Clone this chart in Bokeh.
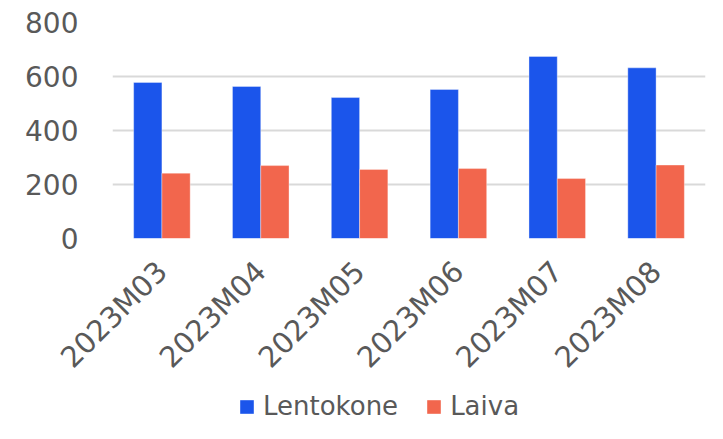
from bokeh.plotting import figure
from bokeh.models import FactorRange, Range1d, Legend, LegendItem, ColumnDataSource
from bokeh.layouts import column
from bokeh.transform import dodge
from bokeh.embed import file_html
from bokeh.resources import INLINE
import math

months = ["2023M03", "2023M04", "2023M05", "2023M06", "2023M07", "2023M08"]
lentokone = [578, 563, 522, 552, 674, 632]
laiva = [242, 270, 256, 259, 222, 272]
y_ticks = [0, 200, 400, 600, 800]
series_names = ["Lentokone", "Laiva"]

BLUE = "#1b55eb"
ORANGE = "#f2664d"
TEXT = "#595959"
GRID = "#d9d9d9"
FONT = "DejaVu Sans"

src = ColumnDataSource(dict(month=months, lentokone=lentokone, laiva=laiva))

p = figure(width=707, height=389, output_backend="svg", toolbar_location=None,
           x_range=FactorRange(factors=months, range_padding=0),
           y_range=Range1d(0, 800),
           min_border_left=112, min_border_right=2, min_border_top=22,
           min_border_bottom=151)
p.outline_line_color = None

p.vbar(x=dodge("month", -0.143, range=p.x_range), top="lentokone", width=0.286,
       source=src, fill_color=BLUE, line_color="white", line_alpha=0.35, line_width=1)
p.vbar(x=dodge("month", 0.143, range=p.x_range), top="laiva", width=0.286,
       source=src, fill_color=ORANGE, line_color="white", line_alpha=0.35, line_width=1)

p.xgrid.grid_line_color = None
p.ygrid.grid_line_color = GRID
p.ygrid.grid_line_width = 2
p.ygrid.ticker = y_ticks
p.yaxis.ticker = y_ticks

for ax in (p.xaxis[0], p.yaxis[0]):
    ax.axis_line_color = None
    ax.major_tick_line_color = None
    ax.minor_tick_line_color = None
    ax.major_label_text_color = TEXT
    ax.major_label_text_font = FONT
    ax.major_label_text_font_size = "28px"

p.xaxis.major_label_text_font_size = "29px"
p.yaxis.major_label_standoff = 28
p.xaxis.major_label_standoff = 22
p.xaxis.major_label_orientation = math.pi / 4

# legend strip below the chart (frames are aligned with the chart above)
lf = figure(width=707, height=34, output_backend="svg", toolbar_location=None,
            x_range=FactorRange(factors=months), y_range=Range1d(0, 800),
            min_border=0, min_border_left=0, min_border_right=0,
            min_border_top=0, min_border_bottom=0)
lf.axis.visible = False
lf.grid.visible = False
lf.outline_line_color = None
l1 = lf.vbar(x="month", top="lentokone", width=0.3, source=src,
             fill_color=BLUE, line_color=None, visible=False)
l2 = lf.vbar(x="month", top="laiva", width=0.3, source=src,
             fill_color=ORANGE, line_color=None, visible=False)

legend = Legend(items=[LegendItem(label=series_names[0], renderers=[l1]),
                       LegendItem(label=series_names[1], renderers=[l2])],
                orientation="horizontal", location=(126, 2),
                glyph_width=17, glyph_height=17, label_standoff=8, spacing=27,
                padding=0, margin=0, border_line_color=None, background_fill_alpha=0,
                inactive_fill_alpha=0,
                label_text_font=FONT, label_text_font_size="26px",
                label_text_color=TEXT, label_height=17)
lf.add_layout(legend, "center")

open("out.html", "w").write(file_html(column(p, lf, spacing=0), INLINE))
